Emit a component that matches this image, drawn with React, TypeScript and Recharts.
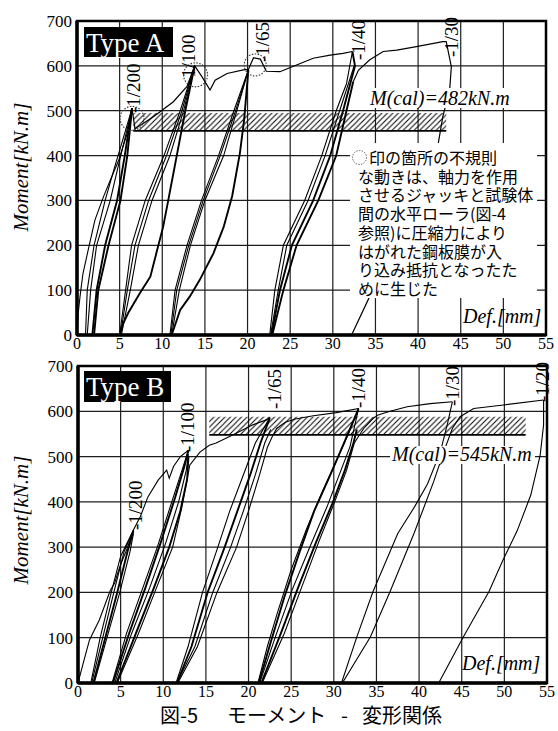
import React from 'react';
import { LineChart, Line, XAxis, YAxis, CartesianGrid, ReferenceArea, ReferenceLine, ReferenceDot } from 'recharts';

type Pt = [number, number];

const X_TICKS = [0, 5, 10, 15, 20, 25, 30, 35, 40, 45, 50, 55];
const Y_TICKS = [0, 100, 200, 300, 400, 500, 600, 700];

// ---- Type A : [Def. mm, Moment kN.m]
const A_SKELETON: Pt[] = [[0, 0], [0.15, 50], [0.35, 85], [0.7, 137], [1.4, 197], [2.1, 256], [3.1, 308], [3.9, 345], [4.9, 390], [5.9, 450], [6.45, 505]];
const A_ENVELOPE: Pt[] = [[6.45, 505], [6.8, 460], [9.0, 487], [11.3, 520], [12.9, 554], [13.8, 600], [14.65, 576], [15.6, 546], [16.2, 568], [17.6, 583], [19.5, 591], [20.1, 592], [20.7, 618], [21.5, 615], [22.2, 588], [23.8, 587], [25.75, 602], [27.7, 617], [29.7, 624], [31.2, 628], [32.3, 632]];

const A_200_1: Pt[] = [[1.0, 0], [1.2, 100], [2.0, 200], [3.3, 300], [4.5, 380], [5.6, 450], [6.45, 505]];
const A_200_2: Pt[] = [[1.2, 0], [1.6, 100], [2.3, 200], [3.9, 300], [5.0, 390], [5.9, 460], [6.45, 505]];
const A_200_3: Pt[] = [[1.8, 0], [2.3, 100], [3.3, 200], [4.7, 300], [5.6, 400], [6.45, 505]];
const A_200_4: Pt[] = [[2.0, 0], [2.5, 100], [3.7, 200], [5.1, 300], [5.9, 400], [6.45, 505]];

const A_100_1: Pt[] = [[5.0, 0], [5.7, 100], [6.4, 200], [8.0, 300], [10.2, 400], [12.1, 500], [13.8, 600]];
const A_100_2: Pt[] = [[5.1, 0], [5.9, 100], [6.8, 200], [8.4, 300], [10.5, 400], [12.3, 500], [13.8, 600]];
const A_100_3: Pt[] = [[5.2, 0], [6.25, 100], [7.2, 200], [8.8, 300], [10.9, 400], [12.5, 500], [13.8, 600]];
const A_100_4: Pt[] = [[5.0, 0], [5.4, 25], [6.0, 49], [7.4, 94], [8.6, 130], [9.3, 182], [10.1, 241], [10.7, 300], [11.7, 400], [12.7, 500], [13.8, 600]];

const A_65_1: Pt[] = [[10.9, 0], [11.5, 100], [12.9, 200], [14.6, 300], [16.6, 400], [18.4, 500], [20.1, 591]];
const A_65_2: Pt[] = [[11.0, 0], [11.7, 100], [13.1, 200], [14.8, 300], [16.8, 400], [18.6, 500], [20.1, 591]];
const A_65_3: Pt[] = [[11.1, 0], [12.0, 100], [13.3, 200], [15.0, 300], [17.2, 400], [18.75, 500], [20.1, 591]];
const A_65_4: Pt[] = [[11.1, 0], [12.1, 56], [13.2, 85], [14.4, 123], [16.0, 182], [17.2, 241], [18.2, 310], [19.1, 405], [19.6, 480], [20.1, 591]];

const A_40_1: Pt[] = [[22.6, 0], [23.2, 100], [24.2, 200], [26.7, 300], [28.7, 400], [30.4, 500], [31.6, 560], [32.3, 632]];
const A_40_2: Pt[] = [[22.7, 0], [23.6, 100], [24.6, 200], [27.1, 300], [29.1, 400], [30.8, 500], [32.5, 600]];
const A_40_3: Pt[] = [[22.8, 0], [23.8, 100], [25.2, 200], [27.7, 300], [29.7, 400], [31.2, 500], [32.6, 600], [32.3, 632]];
const A_40_4: Pt[] = [[22.9, 0], [24.2, 100], [25.75, 200], [28.3, 300], [30.4, 400], [31.6, 500], [32.4, 565]];
const A_30: Pt[] = [[32.4, 565], [33.0, 590], [34.3, 613], [35.9, 632], [37.5, 635], [39.8, 643], [42.9, 654], [43.3, 654], [43.9, 598], [43.7, 546], [42.9, 487], [42.3, 420], [40.5, 320], [38.5, 220], [36.3, 140], [34.3, 85], [32.2, 0]];

// ---- Type B
const B_SKELETON: Pt[] = [[0, 0], [0.7, 50], [1.35, 95], [2.5, 139], [3.5, 190], [3.8, 205], [4.3, 221], [4.9, 257], [5.7, 294], [6.5, 338], [7.3, 367], [8.2, 411], [9.4, 448], [10.4, 470], [10.7, 452], [11.2, 478], [12.0, 500], [12.95, 514]];

const B_200_1: Pt[] = [[1.5, 0], [2.6, 100], [3.9, 200], [5.0, 280], [6.5, 338]];
const B_200_2: Pt[] = [[1.6, 0], [2.9, 100], [4.2, 200], [5.4, 290], [6.5, 338]];
const B_200_3: Pt[] = [[1.8, 0], [3.2, 100], [4.6, 200], [5.8, 290], [6.5, 335]];
const B_200_4: Pt[] = [[1.9, 0], [3.4, 100], [4.9, 200], [6.1, 290], [6.5, 330]];

const B_100_1: Pt[] = [[4.0, 0], [5.7, 110], [7.6, 210], [9.3, 300], [11.0, 400], [12.2, 470], [12.95, 514]];
const B_100_2: Pt[] = [[4.1, 0], [6.0, 110], [7.9, 210], [9.7, 310], [11.4, 410], [12.5, 480], [12.95, 514]];
const B_100_3: Pt[] = [[4.3, 0], [6.3, 110], [8.4, 210], [10.3, 310], [11.8, 400], [12.7, 470], [12.95, 505]];
const B_100_4: Pt[] = [[4.5, 0], [6.8, 110], [8.9, 210], [10.7, 300], [12.0, 380], [12.8, 450], [12.95, 500]];
const B_100_5: Pt[] = [[4.6, 0], [7.1, 110], [9.2, 210], [11.1, 300], [12.2, 390], [12.8, 450], [13.0, 470], [13.1, 481], [14.3, 510], [15.4, 525], [16.2, 530], [18.2, 548], [20.5, 570], [22.1, 581], [22.5, 586]];

const B_65_1: Pt[] = [[11.5, 0], [12.9, 80], [14.6, 200], [16.4, 300], [17.8, 380], [19.4, 460], [20.8, 530], [22.5, 586]];
const B_65_2: Pt[] = [[11.6, 0], [13.3, 80], [15.2, 200], [17.2, 300], [18.7, 380], [20.2, 460], [21.4, 530], [22.5, 586]];
const B_65_3: Pt[] = [[11.6, 0], [13.7, 80], [15.8, 200], [17.9, 300], [19.4, 380], [20.8, 460], [21.9, 530], [22.6, 560]];
const B_65_4: Pt[] = [[11.7, 0], [14.0, 80], [16.3, 200], [18.6, 300], [20.0, 380], [21.3, 460], [22.2, 520], [22.8, 545], [23.3, 562], [24.3, 576], [25.5, 583], [27.6, 590], [30.3, 597], [32.9, 606]];

const B_40_1: Pt[] = [[21.1, 0], [22.2, 80], [23.3, 150], [25.0, 250], [26.8, 340], [28.6, 420], [30.3, 490], [31.7, 550], [32.9, 606]];
const B_40_2: Pt[] = [[21.2, 0], [22.6, 90], [24.2, 190], [26.0, 290], [27.7, 380], [29.6, 460], [31.2, 530], [32.9, 606]];
const B_40_3: Pt[] = [[21.3, 0], [23.3, 110], [25.1, 205], [27.2, 301], [29.2, 389], [30.7, 463], [31.9, 522], [32.9, 606]];
const B_40_4: Pt[] = [[21.5, 0], [23.8, 110], [25.8, 210], [27.9, 310], [29.8, 395], [31.3, 470], [32.3, 530], [32.7, 560]];
const B_40_5: Pt[] = [[21.6, 0], [24.2, 110], [26.3, 215], [28.3, 315], [30.1, 400], [31.5, 470], [32.4, 530], [33.5, 562], [34.6, 584], [35.2, 592], [36.6, 600], [38.6, 610], [41.3, 617], [43.9, 621]];

const B_30_DOWN: Pt[] = [[43.9, 621], [43.3, 570], [42.5, 511], [41.0, 440], [39.5, 390], [37.5, 330], [34.6, 202], [32.7, 102], [30.9, 0]];
const B_30_UP: Pt[] = [[31.0, 0], [34.3, 102], [36.6, 202], [39.4, 330], [41.7, 444], [42.9, 511], [43.9, 562], [44.8, 588], [46.4, 606], [49.9, 614], [54.6, 625]];
const B_20_DOWN: Pt[] = [[54.6, 625], [54.6, 570], [54.2, 503], [53.1, 415], [51.5, 336], [49.8, 270], [48.2, 202], [45.2, 102], [42.3, 0]];

const THIN = 1.1;
const BOLD = 1.9;

const SERIES_A: [Pt[], number][] = [
  [A_SKELETON, THIN], [A_ENVELOPE, 1.2],
  [A_200_1, THIN], [A_200_2, THIN], [A_200_3, BOLD], [A_200_4, BOLD],
  [A_100_1, THIN], [A_100_2, THIN], [A_100_3, THIN], [A_100_4, BOLD],
  [A_65_1, THIN], [A_65_2, THIN], [A_65_3, THIN], [A_65_4, BOLD],
  [A_40_1, THIN], [A_40_2, THIN], [A_40_3, BOLD], [A_40_4, BOLD], [A_30, 1.2],
];

const SERIES_B: [Pt[], number][] = [
  [B_SKELETON, THIN],
  [B_200_1, THIN], [B_200_2, THIN], [B_200_3, BOLD], [B_200_4, THIN],
  [B_100_1, THIN], [B_100_2, BOLD], [B_100_3, THIN], [B_100_4, BOLD], [B_100_5, THIN],
  [B_65_1, THIN], [B_65_2, BOLD], [B_65_3, THIN], [B_65_4, THIN],
  [B_40_1, THIN], [B_40_2, BOLD], [B_40_3, THIN], [B_40_4, BOLD], [B_40_5, THIN],
  [B_30_DOWN, THIN], [B_30_UP, THIN], [B_20_DOWN, THIN],
];

// hatched M(cal) bands: [x1, x2, m1, m2]
const BAND_A = [6.6, 43.3, 455, 495];
const BAND_B = [15.4, 52.5, 548, 588];

// dotted circles round the irregular points (Type A)
const CIRCLES_A: [number, number, number][] = [[6.45, 483, 12], [13.9, 580, 12], [20.9, 602, 11]];

const SERIF = '"Liberation Serif", "Times New Roman", Times, serif';
const GOTHIC = '"Noto Sans CJK JP", "Noto Sans", sans-serif';

const toRows = (pts: Pt[]) => pts.map(([x, m]) => ({ x, m }));

function Panel({ top, height, left, right, series, band, circles }: any) {
  return (
    <div style={{ position: 'absolute', left: 0, top }}>
      <LineChart width={558} height={height} margin={{ top: 21, right, bottom: 0, left }}>
        <CartesianGrid stroke="#1e1e1e" strokeWidth={1.2} />
        <XAxis type="number" dataKey="x" domain={[0, 55]} ticks={X_TICKS} interval={0} allowDataOverflow
          tickLine={false} axisLine={false} tickSize={0} tickMargin={3} height={25}
          tick={{ fill: '#000', fontSize: 16, fontFamily: SERIF }} />
        <YAxis type="number" domain={[0, 700]} ticks={Y_TICKS} interval={0} allowDataOverflow width={50}
          tickLine={false} axisLine={false} tickSize={0} tickMargin={5}
          tick={{ fill: '#000', fontSize: 17, fontFamily: SERIF }} />
        <ReferenceArea x1={band[0]} x2={band[1]} y1={band[2]} y2={band[3]} fill="url(#hatch)" fillOpacity={1} stroke="none" />
        <ReferenceLine segment={[{ x: band[0], y: band[2] }, { x: band[1], y: band[2] }]} stroke="#000" strokeWidth={1.8} />
        {series.map(([pts, w]: [Pt[], number], i: number) => (
          <Line key={i} data={toRows(pts)} dataKey="m" type="linear" stroke="#000" strokeWidth={w}
            dot={false} activeDot={false} isAnimationActive={false} />
        ))}
        {circles.map(([x, m, r]: [number, number, number], i: number) => (
          <ReferenceDot key={'c' + i} x={x} y={m} r={r} fill="none" stroke="#333" strokeWidth={1.1} strokeDasharray="1.5 1.5" />
        ))}
        <ReferenceLine x={0} stroke="#000" strokeWidth={3.5} />
        <ReferenceLine y={0} stroke="#000" strokeWidth={3.5} />
        <ReferenceArea x1={0} x2={55} y1={0} y2={700} fill="none" stroke="#000" strokeWidth={2.5} />
      </LineChart>
    </div>
  );
}

function Ratio({ x, y, text }: { x: number; y: number; text: string }) {
  return (
    <text transform={`translate(${x + 6.5},${y}) rotate(-90)`} fontSize={19} fontFamily={SERIF} fill="#000">{text}</text>
  );
}

const NOTE_LINES = [
  '印の箇所の不規則',
  'な動きは、軸力を作用',
  'させるジャッキと試験体',
  '間の水平ローラ(図-4',
  '参照)に圧縮力により',
  'はがれた鋼板膜が入',
  'り込み抵抗となったた',
  'めに生じた',
];

export default function App() {
  return (
    <div style={{ position: 'absolute', left: 0, top: 0, width: 558, height: 731, background: '#fff', overflow: 'hidden' }}>
      <svg width={0} height={0} style={{ position: 'absolute' }}>
        <defs>
          <pattern id="hatch" width={5.5} height={5.5} patternUnits="userSpaceOnUse">
            <path d="M0,5.5 L5.5,0 M-1,1 L1,-1 M4.5,6.5 L6.5,4.5" stroke="#000" strokeWidth={1} />
          </pattern>
        </defs>
      </svg>
      <Panel top={0} height={360} left={27} right={12} series={SERIES_A} band={BAND_A} circles={CIRCLES_A} />
      <Panel top={345} height={363} left={28} right={11} series={SERIES_B} band={BAND_B} circles={[]} />
      <svg width={558} height={731} style={{ position: 'absolute', left: 0, top: 0, pointerEvents: 'none' }}>
        {/* axis titles */}
        <text transform="translate(28,167) rotate(-90)" textAnchor="middle" fontSize={21} fontStyle="italic" fontFamily={SERIF}>Moment[kN.m]</text>
        <text transform="translate(28,520) rotate(-90)" textAnchor="middle" fontSize={21} fontStyle="italic" fontFamily={SERIF}>Moment[kN.m]</text>
        <text x={463} y={323} fontSize={20} fontStyle="italic" fontFamily={SERIF}>Def.[mm]</text>
        <text x={462} y={670} fontSize={20} fontStyle="italic" fontFamily={SERIF}>Def.[mm]</text>

        {/* type tags */}
        <rect x={84} y={27} width={89} height={30} fill="#000" />
        <text x={86} y={52} fontSize={27} fontFamily={SERIF} fill="#fff">Type A</text>
        <rect x={84} y={371} width={87} height={31} fill="#000" />
        <text x={86} y={396} fontSize={27} fontFamily={SERIF} fill="#fff">Type B</text>

        {/* drift angle marks */}
        <Ratio x={133} y={113} text="-1/200" />
        <Ratio x={188} y={84} text="-1/100" />
        <Ratio x={262} y={62} text="-1/65" />
        <Ratio x={358} y={60} text="-1/40" />
        <Ratio x={451} y={57} text="-1/30" />
        <Ratio x={135} y={530} text="-1/200" />
        <Ratio x={187} y={452} text="-1/100" />
        <Ratio x={274} y={409} text="-1/65" />
        <Ratio x={358} y={408} text="-1/40" />
        <Ratio x={452} y={406} text="-1/30" />
        <Ratio x={542} y={402} text="-1/20" />

        {/* M(cal) labels */}
        <rect x={367} y={88} width={146} height={20} fill="#fff" />
        <text x={370} y={105} fontSize={20} fontStyle="italic" fontFamily={SERIF}>M(cal)=482kN.m</text>
        <rect x={390} y={446} width={145} height={18} fill="#fff" />
        <text x={392} y={461} fontSize={20} fontStyle="italic" fontFamily={SERIF}>M(cal)=545kN.m</text>

        {/* note */}
        <rect x={350} y={143} width={187} height={155} fill="#fff" />
        <circle cx={359.5} cy={157.5} r={7} fill="none" stroke="#444" strokeWidth={1} strokeDasharray="1.2 1.5" />
        {NOTE_LINES.map((t, i) => (
          <text key={i} x={i === 0 ? 369 : 358} y={164 + i * 18.7} fontSize={16} fontFamily={GOTHIC} fill="#000">{t}</text>
        ))}

        {/* caption */}
        <text x={160} y={723} fontSize={20} fontFamily={GOTHIC}>図-5</text>
        <text x={227} y={723} fontSize={20} fontFamily={GOTHIC}>モーメント</text>
        <text x={341} y={723} fontSize={20} fontFamily={GOTHIC}>-</text>
        <text x={362} y={723} fontSize={20} fontFamily={GOTHIC}>変形関係</text>
      </svg>
    </div>
  );
}
